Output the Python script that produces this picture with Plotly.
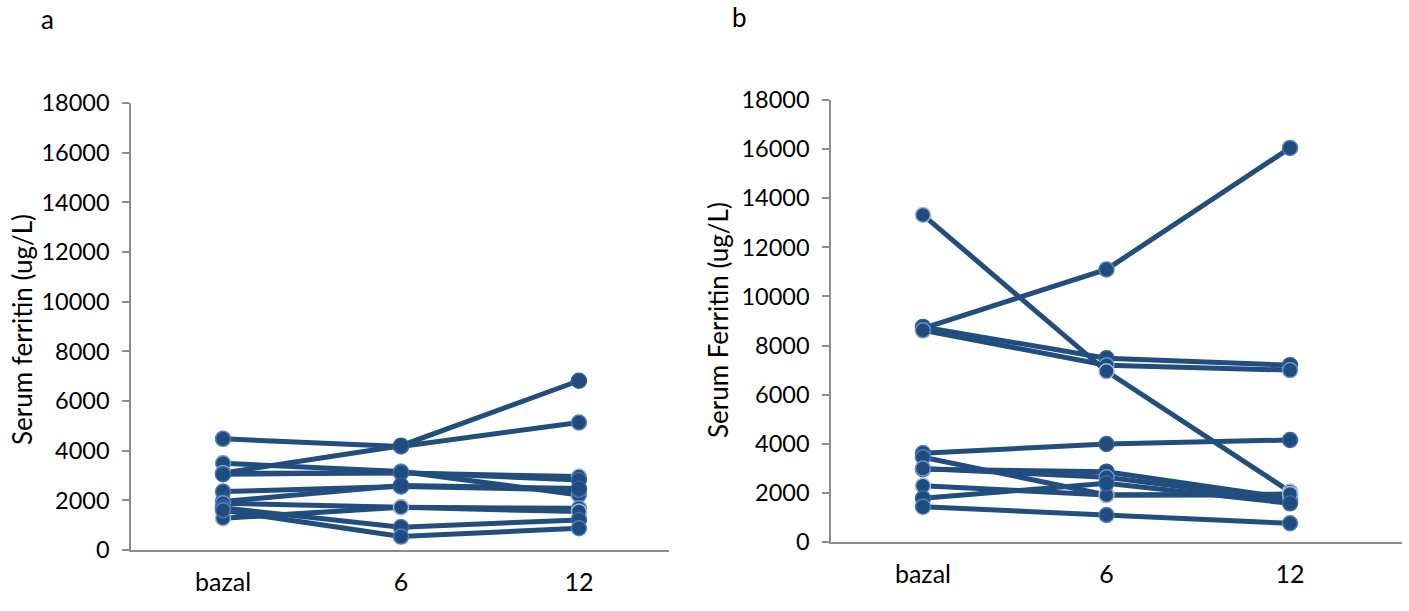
import plotly.graph_objects as go

# Time points (months of treatment)
categories = ["bazal", "6", "12"]

# Panel a: serum ferritin (ug/L) per patient
ferritin_a = [
    [4476, 4167, 5135],
    [3100, 4200, 6815],
    [3495, 3160, 2218],
    [3093, 3100, 2957],
    [3050, 3120, 2823],
    [2352, 2554, 2420],
    [1950, 2600, 2480],
    [1880, 1720, 1680],
    [1277, 1720, 1546],
    [1700, 915, 1210],
    [1600, 540, 875],
]

# Panel b: serum ferritin (ug/L) per patient
ferritin_b = [
    [8700, 11100, 16050],
    [8760, 7480, 7200],
    [8620, 7200, 7000],
    [13320, 6950, 2050],
    [3613, 3992, 4155],
    [3450, 1914, 1914],
    [2961, 2864, 1780],
    [2990, 2635, 1700],
    [2293, 1914, 1950],
    [1780, 2390, 1576],
    [1438, 1100, 762],
]

y_ticks = [0, 2000, 4000, 6000, 8000, 10000, 12000, 14000, 16000, 18000]
y_tick_labels = [str(v) for v in y_ticks]

W, H = 1409, 611
LINE_COLOR = "#214d7f"
MARKER_FILL = "#1f4b7e"
OUTLINES = ["#4f81bd", "#2c5d96", "#6f93c7", "#a5b8d8", "#3a6aa6"]
FONT = "Lato"
AXIS_GRAY = "#8c8c8c"


def px_x(p):
    return p / W


def px_y(p):
    return 1 - p / H


fig = go.Figure()


def add_panel(series, xa, ya):
    for i, vals in enumerate(series):
        fig.add_trace(go.Scatter(
            x=categories, y=vals, mode="lines+markers",
            xaxis=xa, yaxis=ya, showlegend=False,
            line=dict(color=LINE_COLOR, width=5),
            marker=dict(size=15, color=MARKER_FILL,
                        line=dict(color=OUTLINES[i % len(OUTLINES)], width=1.5)),
        ))


add_panel(ferritin_a, "x", "y")
add_panel(ferritin_b, "x2", "y2")

xcommon = dict(type="category", showgrid=False, zeroline=False, automargin=False,
               showline=True, linecolor=AXIS_GRAY, linewidth=1.5,
               ticks="", tickfont=dict(family=FONT, size=25, color="#000"),
               ticklabelstandoff=9, fixedrange=True)
ycommon = dict(range=[0, 18000], tickvals=y_ticks, ticktext=y_tick_labels,
               showgrid=False, zeroline=False, automargin=False,
               showline=True, linecolor=AXIS_GRAY, linewidth=1.5,
               ticks="outside", ticklen=7, tickcolor=AXIS_GRAY, tickwidth=1.5,
               tickfont=dict(family=FONT, size=23.5, color="#000"),
               ticklabelstandoff=8, fixedrange=True)


def label(text, x, y, size, angle=0):
    return dict(text=text, x=px_x(x), y=px_y(y), xref="paper", yref="paper",
                xanchor="center", yanchor="middle", textangle=angle,
                showarrow=False, font=dict(family=FONT, size=size, color="#000"))


fig.update_layout(
    width=W, height=H,
    margin=dict(l=0, r=0, t=0, b=0),
    paper_bgcolor="white", plot_bgcolor="white",
    xaxis=dict(xcommon, domain=[px_x(131), px_x(669)], range=[-0.517, 2.506], anchor="y"),
    yaxis=dict(ycommon, domain=[px_y(550), px_y(103)], anchor="x"),
    xaxis2=dict(xcommon, domain=[px_x(831), px_x(1402)], range=[-0.501, 2.61], anchor="y2"),
    yaxis2=dict(ycommon, domain=[px_y(542), px_y(100)], anchor="x2"),
    annotations=[
        label("a", 47, 19, 26),
        label("b", 739, 17, 26),
        label("Serum ferritin (ug/L)", 22, 330, 26, -90),
        label("Serum Ferritin (ug/L)", 718, 320, 26, -90),
    ],
)

fig.write_html("out.html")
